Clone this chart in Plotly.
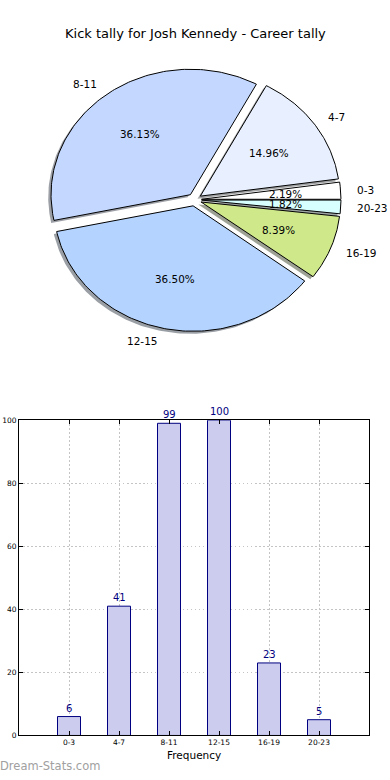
import numpy as np
import plotly.graph_objects as go

title = "Kick tally for Josh Kennedy - Career tally"
categories = ["0-3", "4-7", "8-11", "12-15", "16-19", "20-23"]
counts = [6, 41, 99, 100, 23, 5]
slice_colors = ["#ffffff", "#e8f0ff", "#c4d8ff", "#b4d4ff", "#cfe98a", "#d8ffff"]
bar_ticks = [0, 20, 40, 60, 80, 100]
x_label = "Frequency"
watermark = "Dream-Stats.com"

explode = 0.05
font = "DejaVu Sans"

fig = go.Figure()

vals = np.array(counts, dtype=float)
fracs = vals / vals.sum()
ends = np.cumsum(fracs) * 360.0
starts = ends - fracs * 360.0


def hex_to_rgb(h):
    h = h.lstrip("#")
    return [int(h[i:i + 2], 16) for i in (0, 2, 4)]


def wedge(cx, cy, t1, t2):
    th = np.radians(np.linspace(t1, t2, 120))
    xs = np.concatenate([[cx], cx + np.cos(th), [cx]])
    ys = np.concatenate([[cy], cy + np.sin(th), [cy]])
    return xs, ys


centers = []
for i in range(len(counts)):
    mid = np.radians((starts[i] + ends[i]) / 2)
    centers.append((explode * np.cos(mid), explode * np.sin(mid), mid))

# shadows
for i in range(len(counts)):
    cx, cy, mid = centers[i]
    xs, ys = wedge(cx - 0.02, cy - 0.02, starts[i], ends[i])
    r, g, b = [int(0.3 * c) for c in hex_to_rgb(slice_colors[i])]
    fig.add_trace(go.Scatter(x=xs, y=ys, mode="lines", fill="toself",
                             fillcolor=f"rgba({r},{g},{b},0.5)",
                             line=dict(width=0), hoverinfo="skip",
                             xaxis="x", yaxis="y", showlegend=False))

# wedges
for i in range(len(counts)):
    cx, cy, mid = centers[i]
    xs, ys = wedge(cx, cy, starts[i], ends[i])
    fig.add_trace(go.Scatter(x=xs, y=ys, mode="lines", fill="toself",
                             fillcolor=slice_colors[i],
                             line=dict(color="black", width=1),
                             hoverinfo="skip", name=categories[i],
                             xaxis="x", yaxis="y", showlegend=False))

annotations = []
for i in range(len(counts)):
    cx, cy, mid = centers[i]
    lx = cx + 1.1 * np.cos(mid)
    ly = cy + 1.1 * np.sin(mid)
    annotations.append(dict(x=lx, y=ly, xref="x", yref="y", text=categories[i],
                            showarrow=False, xanchor="left" if lx > 0 else "right",
                            yanchor="middle", font=dict(family=font, size=10.5, color="black")))
    px = cx + 0.6 * np.cos(mid)
    py = cy + 0.6 * np.sin(mid)
    annotations.append(dict(x=px, y=py, xref="x", yref="y", text=f"{fracs[i]*100:.2f}%",
                            showarrow=False, xanchor="center", yanchor="middle",
                            font=dict(family=font, size=10.4, color="black")))

# bars
xpos = np.arange(len(categories))
fig.add_trace(go.Bar(x=xpos, y=counts, width=0.46,
                     marker=dict(color="#ccccee", line=dict(color="#000080", width=1)),
                     xaxis="x2", yaxis="y2", showlegend=False, hoverinfo="skip"))
for xi, v in zip(xpos, counts):
    annotations.append(dict(x=xi, y=v, xref="x2", yref="y2", text=str(v),
                            showarrow=False, xanchor="center", yanchor="bottom", yshift=1,
                            font=dict(family=font, size=10, color="#000080")))

annotations.append(dict(x=0.5, y=1 - 30 / 780, xref="paper", yref="paper", text=title,
                        showarrow=False, xanchor="center", yanchor="middle",
                        font=dict(family=font, size=13, color="black")))
annotations.append(dict(x=(19 + 369) / 2 / 390, y=1 - 760 / 780, xref="paper", yref="paper",
                        text=x_label, showarrow=False, xanchor="center", yanchor="middle",
                        font=dict(family=font, size=10.5, color="black")))
annotations.append(dict(x=-2 / 390, y=1 - 771 / 780, xref="paper", yref="paper",
                        text=watermark, showarrow=False, xanchor="left", yanchor="middle",
                        font=dict(family=font, size=11.5, color="#a0a0a0")))

sx = 139.4
sy = 126.9
cxp = 194.6
cyp = 198.0

grid_style = dict(showgrid=True, gridcolor="#c4c4c4", griddash="1.5px,2.5px", gridwidth=1)

fig.update_layout(
    width=390, height=780,
    margin=dict(l=0, r=0, t=0, b=0),
    paper_bgcolor="white", plot_bgcolor="white",
    showlegend=False,
    annotations=annotations,
    xaxis=dict(domain=[0, 1], range=[-cxp / sx, (390 - cxp) / sx], visible=False, fixedrange=True),
    yaxis=dict(domain=[0.5, 1], range=[-(390 - cyp) / sy, cyp / sy], visible=False, fixedrange=True),
    xaxis2=dict(domain=[19 / 390, 369 / 390], range=[-1, 6], anchor="y2",
                tickvals=list(xpos), ticktext=categories,
                showline=True, linecolor="black", linewidth=1, mirror="ticks",
                ticks="inside", ticklen=4, tickcolor="black",
                tickfont=dict(family=font, size=7.5, color="black"), zeroline=False,
                **grid_style),
    yaxis2=dict(domain=[1 - 740 / 780, 1 - 421 / 780], range=[0, 100], anchor="x2",
                tickvals=bar_ticks,
                showline=True, linecolor="black", linewidth=1, mirror="ticks",
                ticks="inside", ticklen=4, tickcolor="black",
                tickfont=dict(family=font, size=7.5, color="black"), zeroline=False,
                **grid_style),
)

fig.write_html("out.html", config={"displayModeBar": False},
               post_script="document.body.style.margin='0';document.body.style.overflow='hidden';")
